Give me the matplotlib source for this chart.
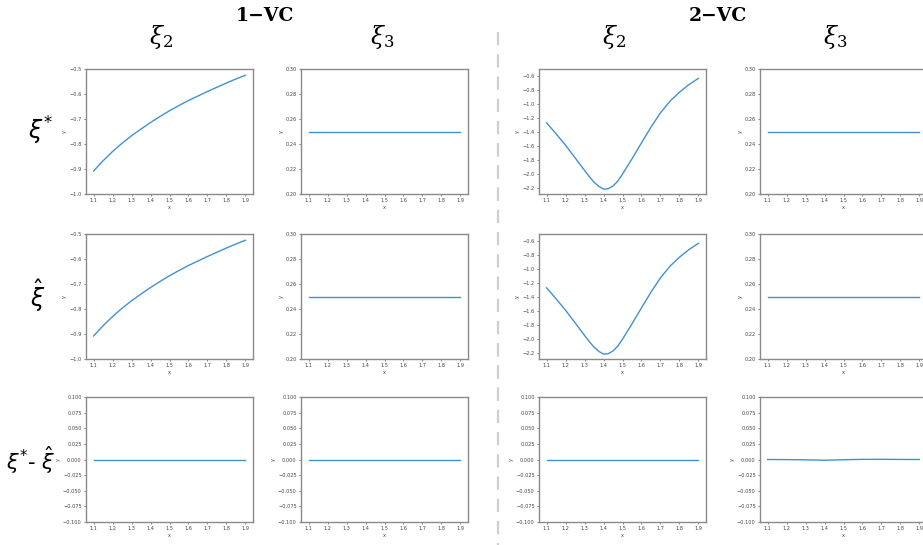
import matplotlib
matplotlib.use("Agg")
import matplotlib.pyplot as plt
from matplotlib.ticker import MultipleLocator, FuncFormatter
from matplotlib.lines import Line2D

# ---------------- data ----------------
group_titles = ["1\u2212VC", "2\u2212VC"]
column_titles = [r"$\xi_2$", r"$\xi_3$", r"$\xi_2$", r"$\xi_3$"]
row_titles = [r"$\xi^{*}$", r"$\hat{\xi}$", r"$\xi^{*}$- $\hat{\xi}$"]

x_main = [1.10, 1.15, 1.20, 1.25, 1.30, 1.35, 1.40, 1.45, 1.50,
          1.55, 1.60, 1.65, 1.70, 1.75, 1.80, 1.85, 1.90]
vc1_xi2 = [-0.908, -0.867, -0.830, -0.797, -0.767, -0.740, -0.714, -0.690,
           -0.667, -0.646, -0.626, -0.608, -0.590, -0.573, -0.556, -0.540, -0.525]

x_vc2 = [1.10, 1.15, 1.20, 1.25, 1.30, 1.325, 1.35, 1.375, 1.40, 1.425,
         1.45, 1.475, 1.50, 1.55, 1.60, 1.65, 1.70, 1.75, 1.80, 1.85, 1.90]
vc2_xi2 = [-1.268, -1.426, -1.590, -1.770, -1.951, -2.040, -2.120, -2.180,
           -2.220, -2.214, -2.175, -2.105, -2.005, -1.785, -1.556, -1.330,
           -1.125, -0.958, -0.829, -0.719, -0.629]

x_flat = [1.1, 1.2, 1.3, 1.4, 1.5, 1.6, 1.7, 1.8, 1.9]
xi3_const = [0.25, 0.25, 0.25, 0.25, 0.25, 0.25, 0.25, 0.25, 0.25]
diff_zero = [0.0, 0.0, 0.0, 0.0, 0.0, 0.0, 0.0, 0.0, 0.0]
diff_vc2_xi3 = [0.0, -0.0002, -0.0005, -0.0012, -0.0004, 0.0002, 0.0003, 0.0001, 0.0]

x_ticks = [1.1, 1.2, 1.3, 1.4, 1.5, 1.6, 1.7, 1.8, 1.9]

# ---------------- layout ----------------
W, H = 923, 545
fig = plt.figure(figsize=(W / 100, H / 100), dpi=100)
fig.patch.set_facecolor("white")

col_left = [86, 301, 539, 760]
row_top = [69, 234, 397]
aw, ah = 167, 125

line_color = "#4290d2"
spine_color = "#8a8a8a"

panels = [
    [(x_main, vc1_xi2, (-1.0, -0.5), 0.1, "%.1f"),
     (x_flat, xi3_const, (0.20, 0.30), 0.02, "%.2f"),
     (x_vc2, vc2_xi2, (-2.29, -0.495), 0.2, "%.1f"),
     (x_flat, xi3_const, (0.20, 0.30), 0.02, "%.2f")],
    [(x_main, vc1_xi2, (-1.0, -0.5), 0.1, "%.1f"),
     (x_flat, xi3_const, (0.20, 0.30), 0.02, "%.2f"),
     (x_vc2, vc2_xi2, (-2.29, -0.495), 0.2, "%.1f"),
     (x_flat, xi3_const, (0.20, 0.30), 0.02, "%.2f")],
    [(x_flat, diff_zero, (-0.1, 0.1), 0.025, "%.3f"),
     (x_flat, diff_zero, (-0.1, 0.1), 0.025, "%.3f"),
     (x_flat, diff_zero, (-0.1, 0.1), 0.025, "%.3f"),
     (x_flat, diff_vc2_xi3, (-0.1, 0.1), 0.025, "%.3f")],
]

for r, row in enumerate(panels):
    for c, (xs, ys, ylim, step, fmt) in enumerate(row):
        left = col_left[c] / W
        bottom = 1 - (row_top[r] + ah) / H
        ax = fig.add_axes([left, bottom, aw / W, ah / H])
        ax.plot(xs, ys, color=line_color, lw=1.0)
        ax.set_xlim(1.06, 1.94)
        ax.set_xticks(x_ticks)
        ax.yaxis.set_major_locator(MultipleLocator(step))
        ax.yaxis.set_major_formatter(
            FuncFormatter(lambda v, p, f=fmt: (f % v).replace("-", "\u2212")
                          if abs(v) > 1e-12 else (f % 0.0)))
        ax.set_ylim(*ylim)
        ax.tick_params(labelsize=3.6, length=1.6, width=0.5, pad=1.5,
                       colors="#555555", labelcolor="#444444")
        for s in ax.spines.values():
            s.set_color(spine_color)
            s.set_linewidth(1.0)
        ax.set_xlabel("x", fontsize=3.6, color="#444444", labelpad=1.5)
        ax.set_ylabel("y", fontsize=3.6, color="#444444", labelpad=1.5)

# ---------------- texts ----------------
def fx(px):
    return px / W

def fy(py):
    return 1 - py / H

for cx, t in zip([265, 718], group_titles):
    fig.text(fx(cx), fy(16), t, ha="center", va="center",
             fontsize=13.5, fontweight="bold", family="DejaVu Serif")

for cx, t in zip([161, 382, 614, 835], column_titles):
    fig.text(fx(cx), fy(37), t, ha="center", va="center", fontsize=17,
             math_fontfamily="dejavuserif")

for cy, cxp, fs, t in zip([131, 296, 460], [40, 38, 31], [17, 17, 15],
                          row_titles):
    fig.text(fx(cxp), fy(cy), t, ha="center", va="center", fontsize=fs,
             math_fontfamily="dejavusans")

# dashed separator
fig.add_artist(Line2D([fx(498), fx(498)], [fy(32), fy(545)],
                      transform=fig.transFigure, color="#cfcfcf",
                      lw=1.6, linestyle=(0, (6, 4))))

fig.savefig("out.png", dpi=100, facecolor="white")
